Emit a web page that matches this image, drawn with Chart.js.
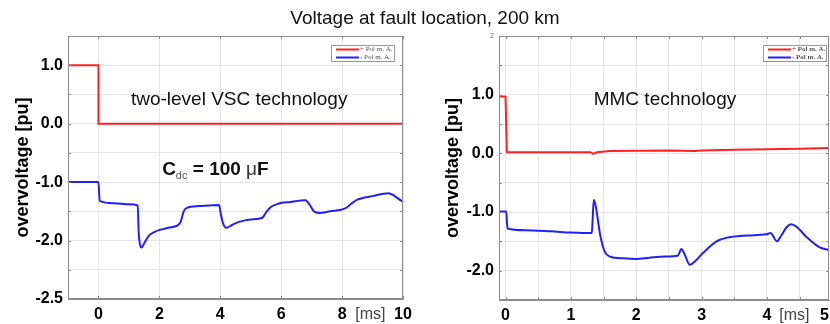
<!DOCTYPE html>
<html>
<head>
<meta charset="utf-8">
<script src="https://cdn.jsdelivr.net/npm/chart.js@4.4.1/dist/chart.umd.min.js"></script>
<style>
  html, body { margin: 0; padding: 0; background: #fff; overflow: hidden; }
  #wrap { position: relative; width: 830px; height: 324px; overflow: hidden; }
  #title { position: absolute; left: 0; width: 850px; top: 7px; text-align: center;
           font: 19px 'Liberation Sans', Arial, sans-serif; color: #111; }
  canvas { position: absolute; top: 0; }
</style>
</head>
<body>
<div id="wrap">
  <canvas id="vsc" width="415" height="324" style="left:0"></canvas>
  <canvas id="mmc" width="415" height="324" style="left:415px"></canvas>
  <div id="title">Voltage at fault location, 200 km</div>
</div>
<script>
// series names (legend)
const seriesLabels = ['+ Pol m. A.', '- Pol m. A.'];

// two-level VSC, time in ms / voltage in pu
const vscPlusT = [-1, 0, 0, 10];
const vscPlusV = [1.0, 1.0, 0.0, 0.0];
const vscMinusT = [-1, 0, 0.04, 0.5, 1.0, 1.29, 1.32, 1.37, 1.42, 1.5, 1.65, 1.85, 2.0, 2.3, 2.6, 2.7, 2.8, 2.9, 3.3, 3.96,
  4.02, 4.1, 4.2, 4.4, 4.62, 5.0, 5.38, 5.5, 5.65, 5.9, 6.3, 6.8, 6.95, 7.07, 7.25, 7.6, 8.1, 8.3, 8.5, 9.0, 9.52, 9.7, 9.95, 10];
const vscMinusV = [-1.0, -1.0, -1.32, -1.36, -1.38, -1.40, -1.85, -2.08, -2.12, -2.05, -1.92, -1.85, -1.82, -1.78, -1.74, -1.68, -1.50, -1.44, -1.41, -1.39,
  -1.55, -1.72, -1.78, -1.73, -1.68, -1.64, -1.61, -1.52, -1.43, -1.37, -1.34, -1.31, -1.40, -1.50, -1.53, -1.50, -1.45, -1.37, -1.30, -1.24, -1.19, -1.23, -1.32, -1.33];

// MMC
const mmcPlusT = [-0.1, 0.0, 0.02, 1.3, 1.34, 1.4, 1.6, 2.5, 2.9, 3.0, 3.5, 4.0, 4.5, 4.95];
const mmcPlusV = [0.97, 0.97, 0.02, 0.02, -0.01, 0.02, 0.04, 0.05, 0.04, 0.05, 0.06, 0.07, 0.08, 0.09];
const mmcMinusT = [-0.1, 0.01, 0.03, 0.3, 0.7, 1.0, 1.32, 1.33, 1.35, 1.38, 1.45, 1.52, 1.6, 1.8, 2.0, 2.2, 2.44, 2.64, 2.69, 2.74,
  2.82, 2.9, 3.02, 3.23, 3.48, 3.7, 3.99, 4.06, 4.1, 4.15, 4.22, 4.3, 4.37, 4.45, 4.6, 4.8, 4.95];
const mmcMinusV = [-0.99, -0.99, -1.28, -1.31, -1.33, -1.35, -1.36, -1.2, -0.79, -0.9, -1.40, -1.68, -1.76, -1.79, -1.80, -1.78, -1.76, -1.74, -1.63, -1.72,
  -1.90, -1.84, -1.70, -1.50, -1.42, -1.40, -1.38, -1.36, -1.42, -1.50, -1.40, -1.26, -1.21, -1.25, -1.42, -1.60, -1.65];

// tick labels: [value, label, grid line?]
const vscXTicks = [[0, '0', 1], [2, '2', 1], [4, '4', 1], [6, '6', 1], [8, '8', 1], [8.93, '[ms]', 0], [10, '10', 1]];
const mmcXTicks = [[0, '0', 1], [0.5, '', 1], [1, '1', 1], [1.5, '', 1], [2, '2', 1], [2.5, '', 1], [3, '3', 1], [3.5, '', 1],
  [4, '4', 1], [4.42, '[ms]', 0], [4.5, '', 1], [4.88, '5', 0]];
// y labels: [value, label]; the source figure prints "-2.5" on its bottom (-3) line
const vscYLabels = [[1, '1.0'], [0, '0.0'], [-1, '-1.0'], [-2, '-2.0'], [-3, '-2.5']];
const mmcYLabels = [[2, '2'], [1, '1.0'], [0, '0.0'], [-1, '-1.0'], [-2, '-2.0']];
const mmcYSmall = [2];

const FONT = "'Liberation Sans', Arial, sans-serif";
const RED = 'rgb(255, 32, 32)';
const BLUE = 'rgb(32, 32, 255)';
const GRID = '#e6e6e6';

const zip = (t, v) => t.map((x, i) => ({ x, y: v[i] }));
const tickVal = c => (c && c.tick) ? c.tick.value : null;

// frame + small inward ticks like the matlab axes
const framePlugin = {
  id: 'frame',
  afterDraw(chart) {
    const { ctx, chartArea: a, scales } = chart;
    ctx.save();
    ctx.strokeStyle = '#8c8c8c';
    ctx.lineWidth = 1;
    ctx.strokeRect(a.left + 0.5, a.top + 0.5, a.width - 1, a.height - 1);
    ctx.beginPath();
    scales.x.ticks.forEach(t => {
      if (!t.grid) return;
      const px = Math.round(scales.x.getPixelForValue(t.value)) + 0.5;
      ctx.moveTo(px, a.top); ctx.lineTo(px, a.top + 3);
      ctx.moveTo(px, a.bottom); ctx.lineTo(px, a.bottom - 3);
    });
    scales.y.ticks.forEach(t => {
      const py = Math.round(scales.y.getPixelForValue(t.value)) + 0.5;
      ctx.moveTo(a.left, py); ctx.lineTo(a.left + 3, py);
      ctx.moveTo(a.right, py); ctx.lineTo(a.right - 3, py);
    });
    ctx.stroke();
    ctx.restore();
  }
};

// little legend box in the upper right corner
const boxLegendPlugin = {
  id: 'boxLegend',
  afterDraw(chart, args, opts) {
    const { ctx, chartArea: a } = chart;
    const w = 64, h = 17;
    const x0 = a.right - opts.right - w, y0 = a.top + 9;
    ctx.save();
    ctx.fillStyle = '#fff';
    ctx.fillRect(x0, y0, w, h);
    ctx.strokeStyle = '#999';
    ctx.lineWidth = 1;
    ctx.strokeRect(x0 + 0.5, y0 + 0.5, w - 1, h - 1);
    chart.data.datasets.forEach((ds, i) => {
      const yy = y0 + 4.5 + i * 8;
      ctx.strokeStyle = ds.borderColor;
      ctx.lineWidth = 2;
      ctx.beginPath();
      ctx.moveTo(x0 + 5, yy); ctx.lineTo(x0 + 28, yy);
      ctx.stroke();
      ctx.fillStyle = '#555';
      ctx.font = (opts.bold ? 'bold ' : '') + "7px 'Liberation Serif', serif";
      ctx.textBaseline = 'middle';
      ctx.fillText(ds.label, x0 + 29, yy);
    });
    ctx.restore();
  }
};

// text notes placed with data coordinates
const notesPlugin = {
  id: 'notes',
  afterDraw(chart, args, opts) {
    const { ctx, scales } = chart;
    ctx.save();
    ctx.textBaseline = 'middle';
    (opts.items || []).forEach(n => {
      let total = 0;
      n.parts.forEach(p => { ctx.font = p.font; total += ctx.measureText(p.text).width; });
      let x = scales.x.getPixelForValue(n.x) - total / 2;
      const y = scales.y.getPixelForValue(n.y);
      n.parts.forEach(p => {
        ctx.font = p.font;
        ctx.fillStyle = p.color || '#111';
        ctx.fillText(p.text, x, y + (p.dy || 0));
        x += ctx.measureText(p.text).width;
      });
    });
    ctx.restore();
  }
};

function panel(id, cfg) {
  const yLabel = v => { const f = cfg.yLabels.find(p => p[0] === v); return f ? f[1] : ''; };
  return new Chart(document.getElementById(id), {
    type: 'scatter',
    data: {
      datasets: [
        { label: seriesLabels[0], data: zip(cfg.plusT, cfg.plusV), borderColor: RED },
        { label: seriesLabels[1], data: zip(cfg.minusT, cfg.minusV), borderColor: BLUE,
          cubicInterpolationMode: 'monotone' }
      ]
    },
    options: {
      responsive: false,
      animation: false,
      showLine: true,
      elements: { point: { radius: 0 }, line: { borderWidth: 2, tension: 0 } },
      layout: { padding: { left: 0, right: cfg.padRight, top: 36, bottom: 0 } },
      plugins: {
        legend: { display: false },
        tooltip: { enabled: false },
        boxLegend: { right: cfg.legendRight, bold: cfg.legendBold },
        notes: { items: cfg.notes }
      },
      scales: {
        x: {
          type: 'linear',
          min: cfg.xMin, max: cfg.xMax,
          afterBuildTicks: s => { s.ticks = cfg.xTicks.map(t => ({ value: t[0], label: t[1], grid: !!t[2] })); },
          afterFit: s => { s.height = cfg.xHeight; },
          border: { color: '#8c8c8c' },
          grid: {
            drawTicks: false,
            color: c => (c && c.tick && c.tick.grid === false) ? 'rgba(0,0,0,0)' : GRID
          },
          ticks: {
            // padding 0 so the end labels do not squeeze the plot; tall line height drops them down
            autoSkip: false, maxRotation: 0, padding: 0,
            callback: (v, i) => cfg.xTicks[i] ? cfg.xTicks[i][1] : '',
            color: c => (c && c.tick && c.tick.label === '[ms]') ? '#444' : '#000',
            font: c => (c && c.tick && c.tick.label === '[ms]')
              ? { family: FONT, size: 16, weight: 'normal', lineHeight: 2.0 }
              : { family: FONT, size: 16, weight: 'bold', lineHeight: 2.0 }
          }
        },
        y: {
          min: cfg.yMin, max: cfg.yMax,
          afterFit: s => { s.width = cfg.yWidth; },
          border: { color: '#8c8c8c' },
          grid: { drawTicks: false, color: GRID },
          ticks: {
            stepSize: 0.5, padding: 5,
            callback: v => yLabel(v),
            color: c => cfg.ySmall.includes(tickVal(c)) ? '#666' : '#000',
            font: c => cfg.ySmall.includes(tickVal(c))
              ? { family: FONT, size: 7, weight: 'normal' }
              : { family: FONT, size: 16, weight: 'bold' }
          },
          title: {
            display: true, text: 'overvoltage [pu]', color: '#000',
            font: { family: FONT, size: 18, weight: 'bold' },
            padding: { top: cfg.titlePad, bottom: 0 }
          }
        }
      }
    },
    plugins: [framePlugin, boxLegendPlugin, notesPlugin]
  });
}

panel('vsc', {
  plusT: vscPlusT, plusV: vscPlusV, minusT: vscMinusT, minusV: vscMinusV,
  xMin: -1, xMax: 10, xTicks: vscXTicks, xHeight: 25,
  yMin: -3, yMax: 1.5, yLabels: vscYLabels, ySmall: [], yWidth: 68, titlePad: 12,
  padRight: 12, legendRight: 8, legendBold: false,
  notes: [
    { x: 4.62, y: 0.41, parts: [{ text: 'two-level VSC technology', font: '19px ' + FONT }] },
    { x: 3.84, y: -0.79, parts: [
      { text: 'C', font: 'bold 19px ' + FONT },
      { text: 'dc', font: '11px ' + FONT, dy: 6, color: '#555' },
      { text: ' = 100 ', font: 'bold 19px ' + FONT },
      { text: '\u03bc', font: '19px ' + FONT, color: '#333' },
      { text: 'F', font: 'bold 19px ' + FONT }
    ] }
  ]
});

panel('mmc', {
  plusT: mmcPlusT, plusV: mmcPlusV, minusT: mmcMinusT, minusV: mmcMinusV,
  xMin: -0.1, xMax: 4.95, xTicks: mmcXTicks, xHeight: 24,
  yMin: -2.5, yMax: 2, yLabels: mmcYLabels, ySmall: mmcYSmall, yWidth: 84, titlePad: 27,
  padRight: 1, legendRight: 2, legendBold: true,
  notes: [
    { x: 2.44, y: 0.91, parts: [{ text: 'MMC technology', font: '19px ' + FONT }] }
  ]
});
</script>
</body>
</html>
